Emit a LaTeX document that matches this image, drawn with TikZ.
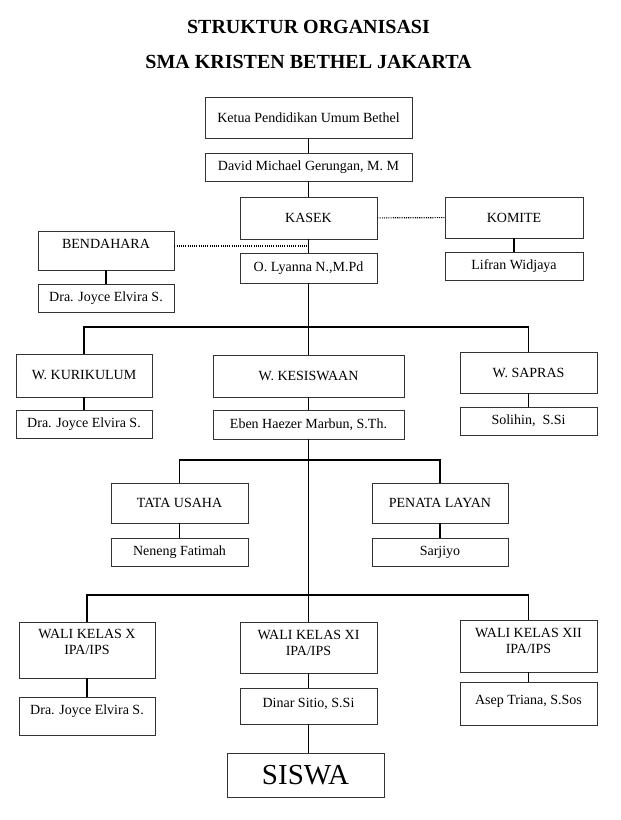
\documentclass[tikz,border=0pt]{standalone}
\usepackage{fontspec}
\setmainfont{Liberation Serif}
\newcommand{\toptext}[2]{\parbox[c][#1][t]{130pt}{\centering #2}}

\begin{document}
\begin{tikzpicture}[x=1pt,y=-1pt,
  box/.style 2 args={draw=black!80,line width=0.7pt,minimum width=#1,
    minimum height=#2,inner sep=0pt,font=\fontsize{14}{16}\selectfont},
  titletext/.style={anchor=base,font=\bfseries\fontsize{20}{24}\selectfont},
  link/.style={line width=1.6pt},
  dotlink/.style={line width=1.1pt,dash pattern=on 1.1pt off 1.1pt}]
 \useasboundingbox (0,0) rectangle (621,820);
 % title
 \node[titletext] (title1) at (308.5,33) {STRUKTUR ORGANISASI};
 \node[titletext] (title2) at (308.5,68) {SMA KRISTEN BETHEL JAKARTA};
 % head of the school and the side boxes
 \node[box={207pt}{41pt}] (ketua) at (308.5,117.5) {Ketua Pendidikan Umum Bethel};
 \node[box={207pt}{28pt}] (david) at (308.5,167) {David Michael Gerungan, M. M};
 \node[box={137pt}{42pt}] (kasek) at (308.5,218) {KASEK};
 \node[box={137pt}{30pt}] (lyanna) at (308.5,268) {O. Lyanna N.,M.Pd};
 \node[box={138pt}{41pt}] (komite) at (514,217.5) {KOMITE};
 \node[box={138pt}{28pt}] (lifran) at (514,266) {Lifran Widjaya};
 \node[box={136pt}{39pt}] (bendahara) at (106,250.5) {\toptext{22pt}{BENDAHARA}};
 \node[box={136pt}{28pt}] (joyceb) at (106,298) {Dra. Joyce Elvira S.};
 % wakil kepala sekolah
 \node[box={136pt}{43pt}] (kurikulum) at (84,375.5) {W. KURIKULUM};
 \node[box={136pt}{28pt}] (joycek) at (84,424) {Dra. Joyce Elvira S.};
 \node[box={191pt}{42pt}] (kesiswaan) at (308.5,376) {W. KESISWAAN};
 \node[box={191pt}{29pt}] (eben) at (308.5,424.5) {Eben Haezer Marbun, S.Th.};
 \node[box={137pt}{41pt}] (sapras) at (528.5,372.5) {W. SAPRAS};
 \node[box={137pt}{28pt}] (solihin) at (528.5,421) {Solihin,\ \ S.Si};
 % staff
 \node[box={137pt}{40pt}] (tata) at (179.5,503) {TATA USAHA};
 \node[box={137pt}{28pt}] (neneng) at (179.5,552) {Neneng Fatimah};
 \node[box={136pt}{40pt}] (penata) at (440,503) {PENATA LAYAN};
 \node[box={136pt}{28pt}] (sarjiyo) at (440,552) {Sarjiyo};
 % wali kelas
 \node[box={136pt}{56pt}] (walix) at (87,650) {\toptext{42pt}{WALI KELAS X\\IPA/IPS}};
 \node[box={136pt}{38pt}] (joycew) at (87,716) {\toptext{22pt}{Dra. Joyce Elvira S.}};
 \node[box={137pt}{51pt}] (walixi) at (308.5,647.5) {\toptext{35pt}{WALI KELAS XI\\IPA/IPS}};
 \node[box={137pt}{36pt}] (dinar) at (308.5,706) {\toptext{16pt}{Dinar Sitio, S.Si}};
 \node[box={137pt}{52pt}] (walixii) at (528.5,646) {\toptext{36pt}{WALI KELAS XII\\IPA/IPS}};
 \node[box={137pt}{43pt}] (asep) at (528.5,703.5) {\toptext{17pt}{Asep Triana, S.Sos}};
 \node[box={157pt}{44pt},font=\fontsize{29}{34}\selectfont] (siswa) at (305.5,775) {SISWA};
 % junctions of the lines
 \path (308.5,327) coordinate (j1)
  (308.5,460) coordinate (j2)
  (308.5,595) coordinate (j3)
  (308.5,246) coordinate (jb);
 \foreach \X/\Y in {ketua/david,david/kasek,kasek/lyanna,komite/lifran,
   bendahara/joyceb,kurikulum/joycek,kesiswaan/eben,sapras/solihin,
   tata/neneng,penata/sarjiyo,walix/joycew,walixi/dinar,walixii/asep,dinar/siswa}
  {\draw[link] (\X.south) -- (\X.south |- \Y.north);}
 \draw[link] (lyanna) -- (kesiswaan);
 \draw[link] (kurikulum.north) |- (j1) -| (sapras.north);
 \draw[link] (eben) -- (walixi);
 \draw[link] (tata.north) |- (j2) -| (penata.north);
 \draw[link] (walix.north) |- (j3) -| (walixii.north);
 % dotted lines
 \draw[dotlink] (kasek) -- (komite);
 \draw[dotlink] (bendahara.east |- jb) -- (jb);
\end{tikzpicture}
\end{document}
